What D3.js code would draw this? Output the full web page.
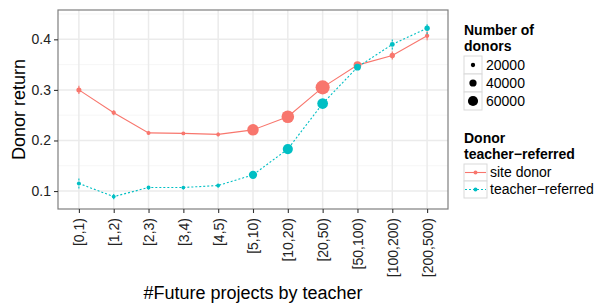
<!DOCTYPE html>
<html>
<head>
<meta charset="utf-8">
<script src="https://cdn.jsdelivr.net/npm/d3@7"></script>
<style>
body { margin: 0; background: #fff; }
text { font-family: "Liberation Sans", Arial, sans-serif; }
</style>
</head>
<body>
<div id="chart"></div>
<script>
var w = 607;
var h = 303;

// data
var bins = ["[0,1)", "[1,2)", "[2,3)", "[3,4)", "[4,5)", "[5,10)", "[10,20)", "[20,50)", "[50,100)", "[100,200)", "[200,500)"];
var siteReturn = [0.300, 0.255, 0.215, 0.214, 0.212, 0.221, 0.247, 0.305, 0.349, 0.368, 0.407];
var siteErr = [0.008, 0.005, 0.004, 0.003, 0.004, 0.003, 0.003, 0.002, 0.004, 0.008, 0.009];
var siteDonors = [25000, 20000, 18000, 17000, 16000, 69000, 77000, 87000, 44000, 27000, 20000];
var teacherReturn = [0.115, 0.089, 0.107, 0.107, 0.111, 0.132, 0.183, 0.273, 0.345, 0.390, 0.422];
var teacherErr = [0.010, 0.005, 0.004, 0.004, 0.004, 0.003, 0.003, 0.003, 0.005, 0.010, 0.012];
var teacherDonors = [18000, 17000, 17000, 16000, 17000, 47000, 60000, 64000, 37000, 24000, 27000];
var yTicks = [0.1, 0.2, 0.3, 0.4];
var yMinor = [0.15, 0.25, 0.35, 0.45];
var sizeBreaks = [20000, 40000, 60000];
var seriesNames = ["site donor", "teacher\u2212referred"];
var colors = ["#F8766D", "#00BFC4"];

var series = [
  {name: seriesNames[0], ret: siteReturn, err: siteErr, n: siteDonors, color: colors[0], dash: null},
  {name: seriesNames[1], ret: teacherReturn, err: teacherErr, n: teacherDonors, color: colors[1], dash: "2,2"}
];

var pLeft = 58, pRight = 448, pTop = 10, pBottom = 209;

var svg = d3.select("#chart").append("svg")
  .attr("width", w)
  .attr("height", h);

var xScale = d3.scalePoint()
  .domain(bins)
  .range([pLeft, pRight])
  .padding(0.6);

var yScale = d3.scaleLinear()
  .domain([0.0645, 0.458])
  .range([pBottom, pTop]);

var rScale = d3.scaleLinear()
  .domain([0, 100000])
  .range([0.7, 8]);

// panel + grid
svg.append("rect")
  .attr("x", pLeft).attr("y", pTop)
  .attr("width", pRight - pLeft).attr("height", pBottom - pTop)
  .attr("fill", "#fff");

svg.selectAll(".minor")
  .data(yMinor)
  .enter()
  .append("line")
  .attr("x1", pLeft).attr("x2", pRight)
  .attr("y1", function(d) { return yScale(d); })
  .attr("y2", function(d) { return yScale(d); })
  .attr("stroke", "#f4f4f4")
  .attr("stroke-width", 0.8);

svg.selectAll(".hgrid")
  .data(yTicks)
  .enter()
  .append("line")
  .attr("x1", pLeft).attr("x2", pRight)
  .attr("y1", function(d) { return yScale(d); })
  .attr("y2", function(d) { return yScale(d); })
  .attr("stroke", "#ebebeb")
  .attr("stroke-width", 1.5);

svg.selectAll(".vgrid")
  .data(bins)
  .enter()
  .append("line")
  .attr("y1", pTop).attr("y2", pBottom)
  .attr("x1", function(d) { return xScale(d); })
  .attr("x2", function(d) { return xScale(d); })
  .attr("stroke", "#ebebeb")
  .attr("stroke-width", 1.5);

// lines, error bars, points
var line = d3.line()
  .x(function(d, i) { return xScale(bins[i]); })
  .y(function(d) { return yScale(d); });

series.forEach(function(s) {
  svg.append("path")
    .datum(s.ret)
    .attr("d", line)
    .attr("fill", "none")
    .attr("stroke", s.color)
    .attr("stroke-width", 1.1)
    .attr("stroke-dasharray", s.dash);

  svg.selectAll(null)
    .data(s.ret)
    .enter()
    .append("line")
    .attr("x1", function(d, i) { return xScale(bins[i]); })
    .attr("x2", function(d, i) { return xScale(bins[i]); })
    .attr("y1", function(d, i) { return yScale(d - s.err[i]); })
    .attr("y2", function(d, i) { return yScale(d + s.err[i]); })
    .attr("stroke", s.color)
    .attr("stroke-width", 1.1)
    .attr("stroke-dasharray", s.dash);

  svg.selectAll(null)
    .data(s.ret)
    .enter()
    .append("circle")
    .attr("cx", function(d, i) { return xScale(bins[i]); })
    .attr("cy", function(d) { return yScale(d); })
    .attr("r", function(d, i) { return rScale(s.n[i]); })
    .attr("fill", s.color);
});

// panel border
svg.append("rect")
  .attr("x", pLeft).attr("y", pTop)
  .attr("width", pRight - pLeft).attr("height", pBottom - pTop)
  .attr("fill", "none")
  .attr("stroke", "#7f7f7f")
  .attr("stroke-width", 1.2);

// axes
var xAxis = d3.axisBottom(xScale).tickSize(4).tickPadding(3);
var yAxis = d3.axisLeft(yScale).tickValues(yTicks).tickSize(4).tickPadding(3).tickFormat(d3.format(".1f"));

var gx = svg.append("g")
  .attr("class", "x axis")
  .attr("transform", "translate(0," + pBottom + ")")
  .call(xAxis);
gx.select(".domain").remove();
gx.selectAll(".tick line").attr("stroke", "#333").attr("stroke-width", 1.1);
gx.selectAll(".tick text")
  .attr("transform", "rotate(-90)")
  .attr("x", -9).attr("y", 0).attr("dy", "0.35em")
  .attr("text-anchor", "end")
  .attr("font-size", 14)
  .attr("fill", "#222");

var gy = svg.append("g")
  .attr("class", "y axis")
  .attr("transform", "translate(" + pLeft + ",0)")
  .call(yAxis);
gy.select(".domain").remove();
gy.selectAll(".tick line").attr("stroke", "#333").attr("stroke-width", 1.1);
gy.selectAll(".tick text").attr("font-size", 14).attr("fill", "#222");

// axis titles
svg.append("text")
  .attr("x", (pLeft + pRight) / 2).attr("y", 299)
  .attr("text-anchor", "middle")
  .attr("font-size", 18)
  .text("#Future projects by teacher");

svg.append("text")
  .attr("transform", "translate(25," + ((pTop + pBottom) / 2) + ") rotate(-90)")
  .attr("text-anchor", "middle")
  .attr("font-size", 18)
  .text("Donor return");

// legend: size
var lg = svg.append("g").attr("transform", "translate(464,0)");
lg.append("text").attr("x", 0).attr("y", 35).attr("font-size", 14).attr("font-weight", "bold").text("Number of");
lg.append("text").attr("x", 0).attr("y", 51).attr("font-size", 14).attr("font-weight", "bold").text("donors");

sizeBreaks.forEach(function(b, i) {
  var y0 = 56 + i * 18;
  lg.append("rect").attr("x", 0).attr("y", y0).attr("width", 18).attr("height", 18)
    .attr("fill", "#fff").attr("stroke", "#d9d9d9").attr("stroke-width", 1);
  lg.append("circle").attr("cx", 9).attr("cy", y0 + 9).attr("r", rScale(b)).attr("fill", "#000");
  lg.append("text").attr("x", 22).attr("y", y0 + 9).attr("dy", "0.35em").attr("font-size", 14).text(d3.format("d")(b));
});

// legend: color
lg.append("text").attr("x", 0).attr("y", 143).attr("font-size", 14).attr("font-weight", "bold").text("Donor");
lg.append("text").attr("x", 0).attr("y", 159).attr("font-size", 14).attr("font-weight", "bold").text("teacher\u2212referred");

series.forEach(function(s, i) {
  var y0 = 164 + i * 17;
  lg.append("rect").attr("x", 0).attr("y", y0).attr("width", 23).attr("height", 17)
    .attr("fill", "#fff").attr("stroke", "#d9d9d9").attr("stroke-width", 1);
  lg.append("line").attr("x1", 1).attr("x2", 22).attr("y1", y0 + 8.5).attr("y2", y0 + 8.5)
    .attr("stroke", s.color).attr("stroke-width", 1.1).attr("stroke-dasharray", s.dash);
  lg.append("circle").attr("cx", 11.5).attr("cy", y0 + 8.5).attr("r", 2).attr("fill", s.color);
  lg.append("text").attr("x", 26).attr("y", y0 + 8.5).attr("dy", "0.35em").attr("font-size", 14).text(s.name);
});
</script>
</body>
</html>
